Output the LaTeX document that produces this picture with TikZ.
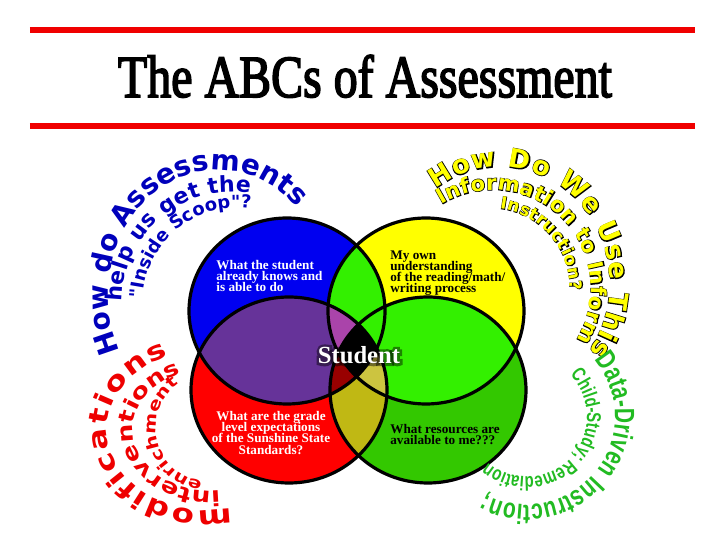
\documentclass[tikz,border=0pt]{standalone}
\usepackage{fontspec}
\setmainfont{Liberation Serif}
\newfontfamily\titlefont{Liberation Serif}[FakeBold=3]
\newfontfamily\glowfont{Liberation Serif}[FakeBold=22]
\newfontfamily\artfill{DejaVu Sans}
\newfontfamily\artedge{DejaVu Sans}[FakeBold=6]
\newfontfamily\widefill{DejaVu Sans}[FakeStretch=1.25]
\newfontfamily\narrowfill{Liberation Sans}[FakeStretch=0.75]
\usetikzlibrary{decorations.text}

\definecolor{ruled}{HTML}{F00000}
\definecolor{cblue}{HTML}{0000F0}
\definecolor{cyellow}{HTML}{FFFF00}
\definecolor{cred}{HTML}{FF0000}
\definecolor{cgreen}{HTML}{33C800}
\definecolor{clime}{HTML}{33F000}
\definecolor{cplum}{HTML}{663399}
\definecolor{colive}{HTML}{C0B814}
\definecolor{cmauve}{HTML}{AA44AA}
\definecolor{cdark}{HTML}{990000}
\definecolor{ckhaki}{HTML}{CCC440}
\definecolor{tblue}{HTML}{0000BB}
\definecolor{tred}{HTML}{EE0000}
\definecolor{tgreen}{HTML}{22BB22}

% the four rings
\def\circB{(287,311) ellipse [x radius=98, y radius=93]}
\def\circY{(426,311) ellipse [x radius=98, y radius=93]}
\def\circR{(289,390) ellipse [x radius=98, y radius=93]}
\def\circG{(428,390) ellipse [x radius=98, y radius=93]}

% curved word-art: colour, font family, size, text, centre, x radius, y radius
\pgfkeys{/wa/from/.initial=0,/wa/to/.initial=90}
\newcommand\arcspan[2]{\pgfkeys{/wa/from=#1,/wa/to=#2}}
\newcommand\curvetext[7]{%
  \def\cfrom{\pgfkeysvalueof{/wa/from}}\def\cto{\pgfkeysvalueof{/wa/to}}%
  \path[shift={(#5)},decorate,decoration={text along path,text color=#1,text align={fit to path},
      text={|\csname #2fill\endcsname\bfseries\fontsize{#3}{#3}\selectfont|#4}}]
    (\cfrom:#6 and #7) arc[start angle=\cfrom,end angle=\cto,x radius=#6,y radius=#7];}
% the same, with a black edge (yellow word-art)
\newcommand\edgetext[7]{%
  \def\cfrom{\pgfkeysvalueof{/wa/from}}\def\cto{\pgfkeysvalueof{/wa/to}}%
  \path[shift={(#5)},decorate,decoration={text along path,text color=black,text align={fit to path},
      text={|\artedge\bfseries\fontsize{#3}{#3}\selectfont|#4}}]
    (\cfrom:#6 and #7) arc[start angle=\cfrom,end angle=\cto,x radius=#6,y radius=#7];
  \curvetext{#1}{#2}{#3}{#4}{#5}{#6}{#7}}

\begin{document}
\begin{tikzpicture}[x=0.5pt,y=-0.5pt,
  rule/.style={draw=ruled,line width=2.6pt},
  ring/.style={draw=black,line width=1.6pt},
  lbl/.style={font={\bfseries\fontsize{6.6}{5.6}\selectfont\lineskiplimit=-5pt},inner sep=0pt,align=left}]
\useasboundingbox (0,0) rectangle (720,540);
\fill[white] (0,0) rectangle (720,540);

\draw[rule] (30,30) -- (695,30);
\draw[rule] (30,126) -- (695,126);
\node[anchor=base,inner sep=0pt] (title) at (365,97)
  {\resizebox{247pt}{21pt}{\titlefont The ABCs of Assessment}};

\fill[cblue] \circB;
\fill[cyellow] \circY;
\fill[cred] \circR;
\fill[cgreen] \circG;
\begin{scope}\clip \circB; \fill[clime] \circY; \fill[cplum] \circR; \end{scope}
\begin{scope}\clip \circG; \fill[clime] \circY; \fill[colive] \circR; \end{scope}
\begin{scope}\clip \circB; \clip \circY; \fill[cmauve] \circR; \fill[clime] \circG; \end{scope}
\begin{scope}\clip \circR; \clip \circG; \fill[cdark] \circB; \fill[ckhaki] \circY; \end{scope}
\begin{scope}\clip \circB; \clip \circY; \clip \circR; \fill[black] \circG; \end{scope}
\draw[ring] \circB;
\draw[ring] \circY;
\draw[ring] \circR;
\draw[ring] \circG;

\node[lbl,text=white,anchor=north west] (knows) at (216,260)
  {What the student\\already knows and\\is able to do};
\node[lbl,anchor=north west] (own) at (390,250)
  {My own\\understanding\\of the reading/math/\\writing process};
\node[lbl,text=white,anchor=north,align=center] (grade) at (271,411)
  {What are the grade\\level expectations\\of the Sunshine State\\Standards?};
\node[lbl,anchor=north west] (resources) at (390,424)
  {What resources are\\available to me???};

\node[font=\glowfont\bfseries\fontsize{12.3}{12}\selectfont,text=black,opacity=0.45,inner sep=0pt] (glow) at (359,355) {Student};
\node[font=\bfseries\fontsize{12.3}{12}\selectfont,text=white,inner sep=0pt] (student) at (359,355) {Student};

\arcspan{153.3}{315.4}\curvetext{tblue}{art}{14}{How do Assessments}{218,295}{110}{125}
\arcspan{180}{279.5}\curvetext{tblue}{art}{11}{help us get the}{232,302}{110}{110}
\arcspan{182}{277}\curvetext{tblue}{art}{9}{"Inside Scoop"?}{237,302}{94}{94}

\arcspan{234.2}{396}\edgetext{cyellow}{art}{13}{How Do We Use This}{500,283}{110}{116}
\arcspan{238.3}{392.1}\edgetext{cyellow}{art}{10.5}{Information to Inform}{493,288}{98}{98}
\arcspan{277.1}{361.6}\edgetext{cyellow}{art}{8.5}{Instruction?}{490,288}{80}{80}

\arcspan{74.6}{248}\curvetext{tred}{wide}{13}{modifications}{205,430}{98}{80}
\arcspan{82.6}{244}\curvetext{tred}{wide}{10.5}{interventions}{210,430}{77}{61}
\arcspan{98}{232}\curvetext{tred}{wide}{8}{enrichment}{210,428}{54}{54}

\arcspan{-40.4}{118}\curvetext{tgreen}{narrow}{14}{Data-Driven Instruction;}{527,417}{88}{88}
\arcspan{-44.4}{128.4}\curvetext{tgreen}{narrow}{10}{Child-Study; Remediation}{527,417}{60}{60}
\end{tikzpicture}
\end{document}
